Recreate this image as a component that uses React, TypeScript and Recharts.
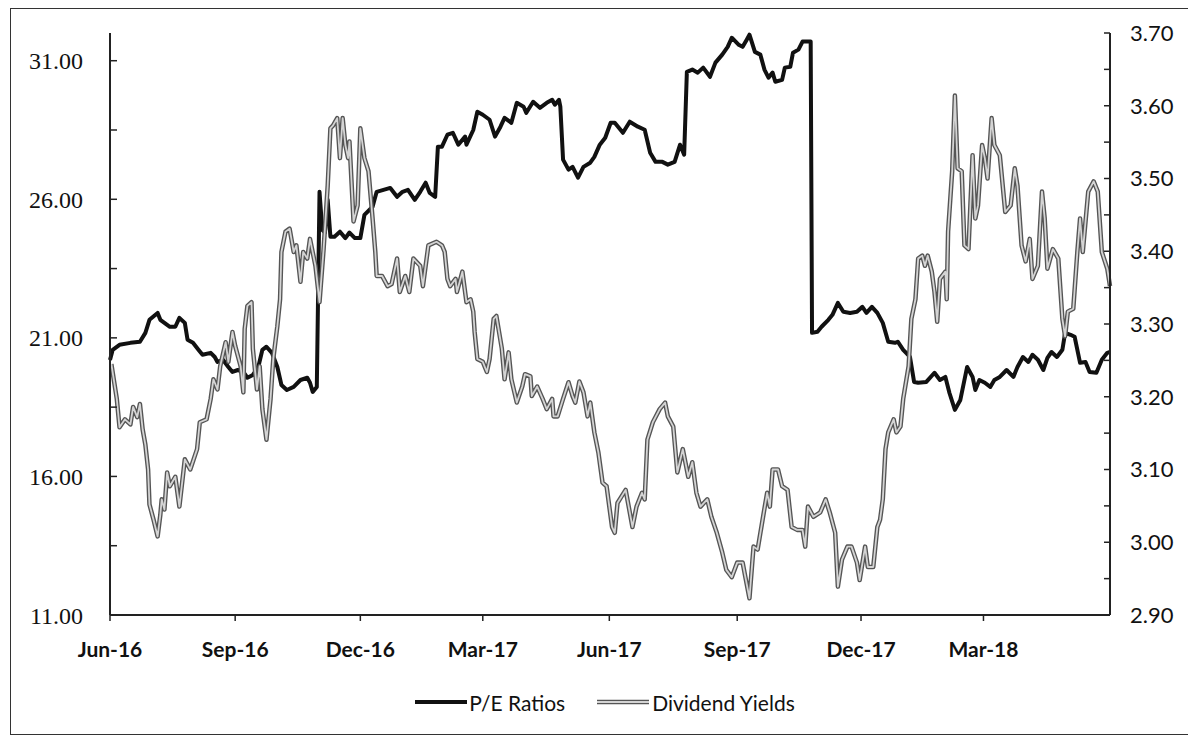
import { LineChart, Line, XAxis, YAxis } from "recharts";

// x is a day index counted from the start of Jun-16
const quarterTicks = [0, 92, 184, 274, 367, 461, 552, 642];
const quarterLabels = ["Jun-16", "Sep-16", "Dec-16", "Mar-17", "Jun-17", "Sep-17", "Dec-17", "Mar-18"];

const peTicks = [11, 13.5, 16, 18.5, 21, 23.5, 26, 28.5, 31];
const dyTicks = [2.9, 2.95, 3.0, 3.05, 3.1, 3.15, 3.2, 3.25, 3.3, 3.35, 3.4, 3.45, 3.5, 3.55, 3.6, 3.65, 3.7];

const peDays = [
  0, 2, 7, 15, 22, 26, 29, 35, 37, 40, 44, 48, 51, 55, 57, 61, 65, 68, 74, 77, 79, 83, 87, 90, 94, 98, 101, 105, 109,
  112, 115, 119, 123, 126, 130, 135, 140, 145, 147, 149, 152, 154, 156, 158, 160, 162, 165, 169, 173, 176, 180, 184,
  187, 193, 196, 201, 206, 211, 215, 219, 224, 228, 232, 235, 239, 241, 244, 248, 252, 256, 261, 262, 267, 270, 274,
  279, 283, 287, 290, 295, 299, 304, 306, 311, 316, 321, 325, 327, 330, 331, 333, 337, 340, 344, 348, 353, 356, 360,
  364, 368, 371, 377, 382, 388, 393, 397, 401, 406, 410, 415, 419, 422, 424, 428, 432, 436, 441, 445, 450, 454, 457,
  462, 465, 468, 470, 474, 478, 481, 484, 487, 489, 494, 496, 500, 502, 506, 509, 515, 516, 520, 523, 528, 531, 535,
  539, 544, 549, 553, 556, 560, 564, 568, 572, 577, 579, 583, 588, 591, 594, 600, 606, 610, 614, 617, 621, 625, 630,
  634, 636, 639, 643, 647, 650, 654, 659, 664, 667, 671, 675, 678, 682, 686, 689, 692, 696, 700, 702, 706, 709, 713,
  717, 720, 725, 729, 733, 735,
];
const peValues = [
  20.2, 20.57, 20.75, 20.82, 20.86, 21.18, 21.65, 21.9, 21.65, 21.54, 21.4, 21.4, 21.72, 21.54, 20.93, 20.82, 20.57,
  20.39, 20.46, 20.31, 20.13, 20.21, 19.95, 19.77, 19.84, 19.77, 19.56, 19.66, 19.95, 20.57, 20.68, 20.46, 19.95, 19.3,
  19.12, 19.23, 19.48, 19.56, 19.38, 19.05, 19.23, 26.27, 24.9, 24.8, 25.98, 24.65, 24.65, 24.83, 24.6, 24.8, 24.6,
  24.6, 25.44, 25.73, 26.27, 26.34, 26.41, 26.09, 26.27, 26.34, 25.98, 26.27, 26.6, 26.23, 26.09, 27.9, 27.9, 28.33,
  28.4, 27.97, 28.26, 27.97, 28.5, 29.16, 29.05, 28.87, 28.26, 28.62, 28.94, 28.76, 29.48, 29.34, 29.12, 29.52, 29.3,
  29.48, 29.59, 29.41, 29.59, 29.34, 27.43, 27.07, 27.17, 26.78, 27.17, 27.32, 27.53, 27.97, 28.22, 28.76, 28.76, 28.4,
  28.8, 28.62, 28.51, 27.68, 27.35, 27.35, 27.25, 27.35, 27.97, 27.61, 30.6, 30.68, 30.57, 30.75, 30.42, 30.93, 31.22,
  31.5, 31.83, 31.58, 31.5, 31.76, 31.94, 31.32, 31.22, 30.68, 30.39, 30.57, 30.24, 30.31, 30.75, 30.78, 31.29, 31.4,
  31.69, 31.69, 21.18, 21.22, 21.4, 21.65, 21.83, 22.26, 21.94, 21.9, 21.94, 22.12, 21.9, 22.12, 21.9, 21.54, 20.86,
  20.82, 20.86, 20.57, 20.31, 19.41, 19.38, 19.41, 19.74, 19.48, 19.59, 19.01, 18.4, 18.76, 19.95, 19.59, 19.12, 19.48,
  19.38, 19.23, 19.48, 19.59, 19.84, 19.59, 19.95, 20.31, 20.13, 20.39, 20.21, 19.84, 20.28, 20.49, 20.31, 20.57,
  21.18, 21.11, 21.04, 20.1, 20.13, 19.77, 19.74, 20.21, 20.46, 20.49,
];

const dyDays = [
  1, 5, 7, 11, 15, 17, 20, 22, 24, 26, 28, 29, 32, 35, 37, 38, 40, 42, 44, 48, 51, 55, 59, 64, 66, 71, 74, 76, 79, 81,
  85, 87, 90, 92, 96, 98, 99, 101, 104, 105, 108, 110, 112, 115, 118, 120, 123, 125, 126, 129, 132, 135, 137, 140, 142,
  145, 147, 151, 154, 157, 160, 162, 164, 167, 169, 171, 173, 175, 176, 179, 182, 184, 187, 190, 193, 195, 196, 200,
  204, 207, 211, 213, 217, 220, 223, 228, 230, 234, 240, 244, 246, 248, 250, 254, 255, 259, 262, 265, 267, 268, 270,
  274, 277, 279, 282, 284, 288, 290, 293, 295, 299, 303, 305, 309, 310, 314, 318, 321, 325, 326, 329, 333, 337, 340,
  342, 345, 348, 351, 353, 356, 359, 362, 365, 369, 371, 373, 376, 379, 384, 387, 391, 393, 395, 399, 404, 408, 410,
  414, 417, 421, 425, 428, 431, 434, 439, 442, 446, 450, 453, 457, 461, 465, 467, 470, 473, 476, 480, 483, 485, 487,
  491, 494, 498, 501, 505, 509, 511, 513, 517, 522, 526, 529, 533, 535, 538, 542, 545, 549, 551, 555, 557, 561, 564,
  566, 568, 570, 572, 576, 578, 581, 583, 587, 589, 592, 594, 597, 599, 601, 604, 606, 608, 610, 614, 615, 616, 619,
  621, 623, 626, 628, 631, 634, 636, 638, 641, 643, 645, 648, 650, 654, 658, 662, 665, 667, 670, 673, 676, 678, 682,
  685, 687, 689, 693, 697, 700, 702, 704, 708, 711, 713, 715, 719, 723, 726, 729, 733, 735,
];
const dyValues = [
  3.245, 3.197, 3.158, 3.169, 3.162, 3.186, 3.172, 3.19, 3.155, 3.134, 3.1, 3.052, 3.031, 3.008, 3.038, 3.059, 3.045,
  3.096, 3.077, 3.09, 3.049, 3.114, 3.1, 3.128, 3.165, 3.169, 3.197, 3.224, 3.21, 3.242, 3.275, 3.248, 3.289, 3.27,
  3.242, 3.206, 3.293, 3.325, 3.33, 3.266, 3.21, 3.242, 3.183, 3.141, 3.197, 3.252, 3.297, 3.334, 3.399, 3.427, 3.431,
  3.399, 3.408, 3.358, 3.399, 3.39, 3.417, 3.38, 3.33, 3.403, 3.49, 3.569, 3.573, 3.583, 3.528, 3.583, 3.546, 3.528,
  3.551, 3.441, 3.463, 3.569, 3.528, 3.51, 3.445, 3.399, 3.366, 3.366, 3.352, 3.355, 3.39, 3.344, 3.366, 3.344, 3.39,
  3.38, 3.352, 3.408, 3.413, 3.408, 3.399, 3.362, 3.352, 3.362, 3.344, 3.372, 3.33, 3.334, 3.317, 3.289, 3.252, 3.248,
  3.234, 3.252, 3.307, 3.311, 3.266, 3.224, 3.261, 3.224, 3.192, 3.214, 3.231, 3.228, 3.201, 3.214, 3.197, 3.183,
  3.197, 3.173, 3.173, 3.197, 3.22, 3.201, 3.192, 3.221, 3.206, 3.173, 3.192, 3.151, 3.123, 3.082, 3.077, 3.021, 3.013,
  3.054, 3.063, 3.072, 3.021, 3.049, 3.068, 3.059, 3.141, 3.165, 3.183, 3.192, 3.173, 3.159, 3.096, 3.128, 3.09, 3.11,
  3.068, 3.049, 3.059, 3.035, 3.013, 2.986, 2.962, 2.952, 2.972, 2.972, 2.952, 2.923, 2.994, 2.99, 3.035, 3.068, 3.049,
  3.1, 3.1, 3.077, 3.072, 3.021, 3.017, 3.017, 2.994, 3.049, 3.035, 3.041, 3.059, 3.041, 3.013, 2.939, 2.976, 2.994,
  2.994, 2.972, 2.948, 2.994, 2.966, 2.966, 3.021, 3.031, 3.059, 3.128, 3.151, 3.169, 3.151, 3.159, 3.197, 3.242, 3.307,
  3.334, 3.39, 3.394, 3.38, 3.394, 3.372, 3.344, 3.303, 3.362, 3.372, 3.334, 3.427, 3.51, 3.614, 3.514, 3.51, 3.408,
  3.403, 3.532, 3.445, 3.463, 3.546, 3.528, 3.5, 3.583, 3.546, 3.532, 3.454, 3.463, 3.514, 3.49, 3.408, 3.386, 3.417,
  3.362, 3.38, 3.482, 3.445, 3.376, 3.403, 3.39, 3.307, 3.283, 3.317, 3.321, 3.399, 3.445, 3.399, 3.482, 3.496, 3.482,
  3.399, 3.376, 3.352,
];

const peData = peDays.map((t, i) => ({ t, pe: peValues[i] }));
const dyData = dyDays.map((t, i) => ({ t, dy: dyValues[i] }));

const axisColor = "#222";

function PeTick({ x, y, payload }: any) {
  const v = payload.value as number;
  const labeled = Math.abs(v - Math.round(v)) < 1e-6;
  return (
    <g>
      <line x1={x} x2={x + 7} y1={y} y2={y} stroke={axisColor} strokeWidth={1.5} />
      {labeled && (
        <text x={x - 27} y={y} dy="0.36em" textAnchor="end" fontFamily="'Liberation Serif', serif" fontSize={24} fill="#111">
          {v.toFixed(2)}
        </text>
      )}
    </g>
  );
}

function DyTick({ x, y, payload }: any) {
  const v = payload.value as number;
  const labeled = Math.abs(v * 10 - Math.round(v * 10)) < 1e-6;
  return (
    <g>
      <line x1={x - 6} x2={x} y1={y} y2={y} stroke={axisColor} strokeWidth={1.5} />
      {labeled && (
        <text x={x + 20} y={y} dy="0.36em" textAnchor="start" fontFamily="Lato, sans-serif" fontSize={22} fill="#111">
          {v.toFixed(2)}
        </text>
      )}
    </g>
  );
}

function Swatch({ dividend }: { dividend?: boolean }) {
  return (
    <svg width={52} height={10} style={{ display: "block" }}>
      {dividend ? (
        <>
          <line x1={0} x2={52} y1={5} y2={5} stroke="#555" strokeWidth={4.5} />
          <line x1={0} x2={52} y1={5} y2={5} stroke="#d4d4d4" strokeWidth={1.8} />
        </>
      ) : (
        <line x1={0} x2={52} y1={5} y2={5} stroke="#111" strokeWidth={4} />
      )}
    </svg>
  );
}

export default function App() {
  return (
    <div
      style={{
        position: "relative",
        marginLeft: 2,
        width: 1180,
        height: 727,
        border: "1px solid #333",
        boxSizing: "border-box",
        background: "#fff",
      }}
    >
      <div style={{ position: "absolute", left: -1, top: -1 }}>
        <LineChart width={1180} height={728} margin={{ top: 25, right: 0, left: 0, bottom: 0 }}>
          <XAxis
            dataKey="t"
            type="number"
            domain={[0, 735]}
            ticks={quarterTicks}
            interval={0}
            tickFormatter={(v: number) => quarterLabels[quarterTicks.indexOf(v)]}
            height={121}
            tickSize={6}
            tickMargin={21}
            axisLine={{ stroke: axisColor, strokeWidth: 2 }}
            tickLine={{ stroke: axisColor, strokeWidth: 1.5 }}
            tick={{ fontFamily: "Lato, sans-serif", fontWeight: 700, fontSize: 21, fill: "#111" }}
          />
          <YAxis
            yAxisId="pe"
            domain={[11, 32]}
            ticks={peTicks}
            interval={0}
            width={100}
            tickSize={0}
            tickMargin={0}
            tickLine={false}
            axisLine={{ stroke: axisColor, strokeWidth: 2 }}
            tick={<PeTick />}
          />
          <YAxis
            yAxisId="dy"
            orientation="right"
            domain={[2.9, 3.7]}
            ticks={dyTicks}
            interval={0}
            width={80}
            tickSize={0}
            tickMargin={0}
            tickLine={false}
            axisLine={{ stroke: axisColor, strokeWidth: 2 }}
            tick={<DyTick />}
          />
          <Line
            yAxisId="pe"
            data={peData}
            dataKey="pe"
            name="P/E Ratios"
            stroke="#111"
            strokeWidth={4}
            strokeLinejoin="round"
            dot={false}
            activeDot={false}
            isAnimationActive={false}
          />
          <Line
            yAxisId="dy"
            data={dyData}
            dataKey="dy"
            name="Dividend Yields"
            stroke="#555"
            strokeWidth={4.5}
            strokeLinejoin="round"
            dot={false}
            activeDot={false}
            isAnimationActive={false}
          />
          <Line
            yAxisId="dy"
            data={dyData}
            dataKey="dy"
            legendType="none"
            stroke="#d4d4d4"
            strokeWidth={1.8}
            strokeLinejoin="round"
            dot={false}
            activeDot={false}
            isAnimationActive={false}
          />
        </LineChart>
      </div>
      <div
        style={{
          position: "absolute",
          left: 0,
          top: 679,
          width: "100%",
          height: 28,
          display: "flex",
          justifyContent: "center",
          alignItems: "center",
          fontFamily: "Lato, sans-serif",
          fontSize: 21,
          color: "#111",
          paddingLeft: 10,
          boxSizing: "border-box",
        }}
      >
        <Swatch />
        <span style={{ marginLeft: 2, marginRight: 32 }}>P/E Ratios</span>
        <Swatch dividend />
        <span style={{ marginLeft: 3 }}>Dividend Yields</span>
      </div>
    </div>
  );
}
